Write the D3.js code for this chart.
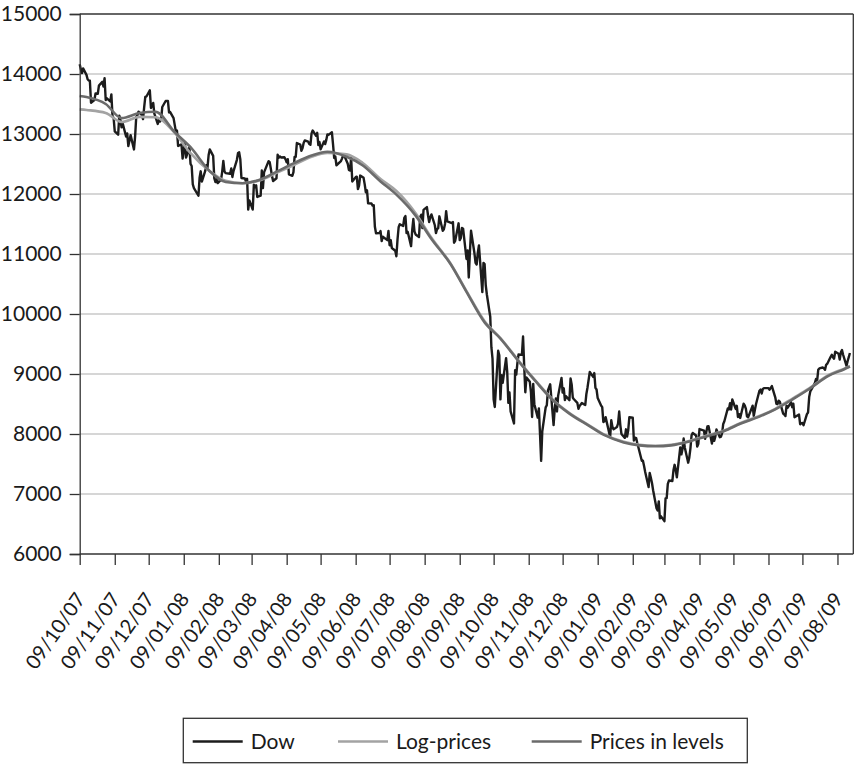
<!DOCTYPE html>
<html><head><meta charset="utf-8">
<script src="https://cdn.jsdelivr.net/npm/d3@7"></script>
<style>
body{margin:0;background:#fff}
svg{display:block}
text{font-family:Lato,"Open Sans",sans-serif;fill:#1a1a1a}
</style>
</head><body>
<svg id="chart" width="856" height="764"></svg>
<script>
// ---------- DATA ----------
const seriesNames = ["Dow", "Log-prices", "Prices in levels"];
const yTicks = [6000,7000,8000,9000,10000,11000,12000,13000,14000,15000];
const xTickDates = ["2007-10-09","2007-11-09","2007-12-09","2008-01-09","2008-02-09","2008-03-09","2008-04-09","2008-05-09","2008-06-09","2008-07-09","2008-08-09","2008-09-09","2008-10-09","2008-11-09","2008-12-09","2009-01-09","2009-02-09","2009-03-09","2009-04-09","2009-05-09","2009-06-09","2009-07-09","2009-08-09"];

const dow2007 = [["10-09",14164],["10-10",14078],["10-11",14015],["10-12",14093],["10-15",13985],["10-16",13913],["10-17",13892],["10-18",13888],["10-19",13522],["10-22",13566],["10-23",13676],["10-24",13675],["10-25",13671],["10-26",13807],["10-29",13870],["10-30",13792],["10-31",13930],["11-01",13567],["11-02",13595],["11-05",13543],["11-06",13660],["11-07",13300],["11-08",13266],["11-09",13043],["11-12",12988],["11-13",13307],["11-14",13231],["11-15",13110],["11-16",13177],["11-19",12958],["11-20",13010],["11-21",12799],["11-23",12981],["11-26",12743],["11-27",12959],["11-28",13289],["11-29",13311],["11-30",13372],["12-03",13315],["12-04",13249],["12-05",13445],["12-06",13620],["12-07",13625],["12-10",13727],["12-11",13433],["12-12",13474],["12-13",13518],["12-14",13339],["12-17",13167],["12-18",13232],["12-19",13207],["12-20",13245],["12-21",13450],["12-24",13550],["12-26",13551],["12-27",13359],["12-28",13366],["12-31",13265]];

const dow2008 = [["01-02",13044],["01-03",13057],["01-04",12800],["01-07",12827],["01-08",12589],["01-09",12735],["01-10",12853],["01-11",12606],["01-14",12778],["01-15",12501],["01-16",12467],["01-17",12159],["01-18",12099],["01-22",11971],["01-23",12270],["01-24",12378],["01-25",12207],["01-28",12384],["01-29",12480],["01-30",12443],["01-31",12650],["02-01",12743],["02-04",12635],["02-05",12265],["02-06",12200],["02-07",12248],["02-08",12182],["02-11",12240],["02-12",12373],["02-13",12552],["02-14",12376],["02-15",12348],["02-19",12337],["02-20",12427],["02-21",12284],["02-22",12381],["02-25",12570],["02-26",12684],["02-27",12694],["02-28",12582],["02-29",12266],["03-03",12258],["03-04",12213],["03-05",12254],["03-06",11740],["03-07",11894],["03-10",11741],["03-11",12156],["03-12",12111],["03-13",12146],["03-14",11951],["03-17",11972],["03-18",12392],["03-19",12099],["03-20",12361],["03-24",12548],["03-25",12532],["03-26",12422],["03-27",12302],["03-28",12216],["03-31",12263],["04-01",12654],["04-02",12605],["04-03",12626],["04-04",12609],["04-07",12612],["04-08",12577],["04-09",12527],["04-10",12581],["04-11",12326],["04-14",12302],["04-15",12363],["04-16",12619],["04-17",12620],["04-18",12849],["04-21",12825],["04-22",12721],["04-23",12763],["04-24",12849],["04-25",12892],["04-28",12871],["04-29",12832],["04-30",12820],["05-01",13010],["05-02",13058],["05-05",12970],["05-06",13020],["05-07",12814],["05-08",12866],["05-09",12745],["05-12",12876],["05-13",12832],["05-14",12898],["05-15",12992],["05-16",12986],["05-19",13028],["05-20",12828],["05-21",12601],["05-22",12625],["05-23",12479],["05-27",12548],["05-28",12594],["05-29",12647],["05-30",12638],["06-02",12503],["06-03",12402],["06-04",12390],["06-05",12604],["06-06",12209],["06-09",12280],["06-10",12289],["06-11",12083],["06-12",12141],["06-13",12307],["06-16",12269],["06-17",12160],["06-18",12029],["06-19",12063],["06-20",11843],["06-23",11842],["06-24",11807],["06-25",11811],["06-26",11453],["06-27",11346],["06-30",11350],["07-01",11382],["07-02",11215],["07-03",11288],["07-07",11231],["07-08",11384],["07-09",11147],["07-10",11229],["07-11",11100],["07-14",11055],["07-15",10962],["07-16",11239],["07-17",11446],["07-18",11496],["07-21",11467],["07-22",11602],["07-23",11632],["07-24",11349],["07-25",11370],["07-28",11131],["07-29",11397],["07-30",11583],["07-31",11378],["08-01",11326],["08-04",11284],["08-05",11615],["08-06",11656],["08-07",11432],["08-08",11734],["08-11",11782],["08-12",11642],["08-13",11532],["08-14",11616],["08-15",11659],["08-18",11479],["08-19",11348],["08-20",11417],["08-21",11430],["08-22",11628],["08-25",11386],["08-26",11413],["08-27",11502],["08-28",11715],["08-29",11543],["09-02",11516],["09-03",11532],["09-04",11188],["09-05",11220],["09-08",11511],["09-09",11231],["09-10",11268],["09-11",11434],["09-12",11421],["09-15",10917],["09-16",11059],["09-17",10609],["09-18",11020],["09-19",11388],["09-22",11016],["09-23",10854],["09-24",10825],["09-25",11022],["09-26",11143],["09-29",10365],["09-30",10851],["10-01",10831],["10-02",10483],["10-03",10325],["10-06",9955],["10-07",9447],["10-08",9258],["10-09",8579],["10-10",8451],["10-13",9387],["10-14",9311],["10-15",8577],["10-16",8979],["10-17",8852],["10-20",9265],["10-21",9034],["10-22",8519],["10-23",8691],["10-24",8378],["10-27",8176],["10-28",9065],["10-29",8991],["10-30",9180],["10-31",9325],["11-03",9319],["11-04",9625],["11-05",9139],["11-06",8695],["11-07",8943],["11-10",8870],["11-11",8693],["11-12",8283],["11-13",8835],["11-14",8497],["11-17",8273],["11-18",8425],["11-19",7997],["11-20",7552],["11-21",8046],["11-24",8443],["11-25",8479],["11-26",8726],["11-28",8829],["12-01",8149],["12-02",8419],["12-03",8591],["12-04",8376],["12-05",8635],["12-08",8934],["12-09",8691],["12-10",8761],["12-11",8565],["12-12",8629],["12-15",8564],["12-16",8924],["12-17",8824],["12-18",8604],["12-19",8579],["12-22",8519],["12-23",8419],["12-24",8468],["12-26",8515],["12-29",8483],["12-30",8668],["12-31",8776]];

const dow2009 = [["01-02",9034],["01-05",8952],["01-06",9015],["01-07",8769],["01-08",8742],["01-09",8599],["01-12",8474],["01-13",8448],["01-14",8200],["01-15",8212],["01-16",8281],["01-20",7949],["01-21",8228],["01-22",8123],["01-23",8077],["01-26",8116],["01-27",8175],["01-28",8375],["01-29",8149],["01-30",8001],["02-02",7936],["02-03",8078],["02-04",7956],["02-05",8063],["02-06",8280],["02-09",8270],["02-10",7889],["02-11",7939],["02-12",7932],["02-13",7850],["02-17",7553],["02-18",7555],["02-19",7466],["02-20",7366],["02-23",7115],["02-24",7351],["02-25",7270],["02-26",7183],["02-27",7063],["03-02",6763],["03-03",6726],["03-04",6876],["03-05",6594],["03-06",6627],["03-09",6547],["03-10",6926],["03-11",6930],["03-12",7170],["03-13",7224],["03-16",7216],["03-17",7395],["03-18",7486],["03-19",7400],["03-20",7278],["03-23",7776],["03-24",7660],["03-25",7750],["03-26",7924],["03-27",7776],["03-30",7522],["03-31",7609],["04-01",7761],["04-02",7978],["04-03",8018],["04-06",7975],["04-07",7789],["04-08",7837],["04-09",8083],["04-13",8058],["04-14",7920],["04-15",8029],["04-16",8125],["04-17",8131],["04-20",7842],["04-21",7969],["04-22",7886],["04-23",7957],["04-24",8076],["04-27",7946],["04-28",7956],["04-29",8016],["04-30",8168],["05-01",8212],["05-04",8426],["05-05",8410],["05-06",8512],["05-07",8409],["05-08",8575],["05-11",8418],["05-12",8469],["05-13",8284],["05-14",8331],["05-15",8268],["05-18",8504],["05-19",8475],["05-20",8422],["05-21",8293],["05-22",8277],["05-26",8473],["05-27",8300],["05-28",8403],["05-29",8500],["06-01",8721],["06-02",8740],["06-03",8675],["06-04",8750],["06-05",8764],["06-08",8764],["06-09",8763],["06-10",8739],["06-11",8770],["06-12",8799],["06-15",8612],["06-16",8504],["06-17",8497],["06-18",8555],["06-19",8539],["06-22",8339],["06-23",8323],["06-24",8299],["06-25",8472],["06-26",8438],["06-29",8529],["06-30",8447],["07-01",8504],["07-02",8280],["07-06",8324],["07-07",8163],["07-08",8178],["07-09",8183],["07-10",8146],["07-13",8332],["07-14",8359],["07-15",8616],["07-16",8711],["07-17",8743],["07-20",8848],["07-21",8916],["07-22",8881],["07-23",9069],["07-24",9093],["07-27",9108],["07-28",9096],["07-29",9070],["07-30",9154],["07-31",9172],["08-03",9286],["08-04",9320],["08-05",9280],["08-06",9256],["08-07",9370],["08-10",9337],["08-11",9241],["08-12",9362],["08-13",9398],["08-14",9321],["08-17",9135],["08-18",9217],["08-19",9280],["08-20",9350]];

const trendDates = ["2007-10-09","2007-10-15","2007-11-01","2007-11-15","2007-12-01","2007-12-15","2008-01-01","2008-01-15","2008-02-01","2008-02-15","2008-03-01","2008-03-15","2008-04-01","2008-04-15","2008-05-01","2008-05-15","2008-06-01","2008-06-15","2008-07-01","2008-07-15","2008-08-01","2008-08-15","2008-09-01","2008-09-15","2008-10-01","2008-10-15","2008-11-01","2008-11-15","2008-12-01","2008-12-15","2009-01-01","2009-01-15","2009-02-01","2009-02-15","2009-03-01","2009-03-15","2009-04-01","2009-04-15","2009-05-01","2009-05-15","2009-06-01","2009-06-15","2009-07-01","2009-07-15","2009-08-01","2009-08-15","2009-08-20"];
const logPrices = [13411,13400,13350,13200,13285,13280,13020,12680,12380,12220,12180,12220,12360,12480,12620,12685,12660,12520,12250,12050,11680,11270,10840,10380,9880,9600,9200,8890,8560,8350,8150,7990,7870,7820,7805,7820,7890,7970,8060,8180,8300,8420,8600,8760,8980,9090,9130];
const pricesInLevels = [13633,13615,13500,13265,13350,13370,13030,12780,12380,12200,12180,12230,12380,12510,12640,12705,12620,12480,12210,11990,11640,11250,10830,10370,9860,9590,9190,8880,8550,8340,8140,7980,7860,7810,7795,7810,7880,7960,8050,8170,8290,8410,8585,8750,8970,9080,9125];

// ---------- CHART ----------
const svg = d3.select("#chart");
const parse = d3.utcParse("%Y-%m-%d");
const L = 79.7, R = 853.3, T = 14, B = 554;

const x = d3.scaleUtc().domain([parse("2007-10-09"), parse("2009-08-23")]).range([L, R]);
const y = d3.scaleLinear().domain([6000, 15000]).range([B, T]);

const dow = [].concat(
  dow2007.map(d => ({date: parse("2007-" + d[0]), v: d[1]})),
  dow2008.map(d => ({date: parse("2008-" + d[0]), v: d[1]})),
  dow2009.map(d => ({date: parse("2009-" + d[0]), v: d[1]}))
);
const logS = trendDates.map((d, i) => ({date: parse(d), v: logPrices[i]}));
const lvlS = trendDates.map((d, i) => ({date: parse(d), v: pricesInLevels[i]}));

// gridlines
svg.append("g").selectAll("line").data(yTicks.filter(t => t > 6000 && t < 15000)).join("line")
  .attr("x1", L).attr("x2", R).attr("y1", d => y(d)).attr("y2", d => y(d))
  .attr("stroke", "#c8c8c8").attr("stroke-width", 1.5);

// series
const line = d3.line().x(d => x(d.date)).y(d => y(d.v));
const smooth = d3.line().x(d => x(d.date)).y(d => y(d.v)).curve(d3.curveMonotoneX);
svg.append("path").datum(dow).attr("d", line).attr("fill", "none")
  .attr("stroke", "#1c1c1c").attr("stroke-width", 2.4).attr("stroke-linejoin", "round");
svg.append("path").datum(logS).attr("d", smooth).attr("fill", "none")
  .attr("stroke", "#a3a3a3").attr("stroke-width", 2.6);
svg.append("path").datum(lvlS).attr("d", smooth).attr("fill", "none")
  .attr("stroke", "#6b6b6b").attr("stroke-width", 2.6);

// frame top / right
svg.append("line").attr("x1", L).attr("x2", R).attr("y1", T).attr("y2", T).attr("stroke", "#333").attr("stroke-width", 1.3);
svg.append("line").attr("x1", R).attr("x2", R).attr("y1", T).attr("y2", B).attr("stroke", "#333").attr("stroke-width", 1.3);

// y axis
const yAxis = d3.axisLeft(y).tickValues(yTicks).tickSize(10).tickPadding(8).tickFormat(d3.format("d"));
const gy = svg.append("g").attr("transform", `translate(${L},0)`).call(yAxis);
gy.select(".domain").attr("stroke", "#333").attr("stroke-width", 1.3);
gy.selectAll(".tick line").attr("stroke", "#333").attr("stroke-width", 1.3);
gy.selectAll(".tick text").attr("font-size", 21).attr("font-family", "Lato").attr("fill", "#1a1a1a");

// x axis
const xAxis = d3.axisBottom(x).tickValues(xTickDates.map(parse)).tickSize(11).tickFormat(d3.utcFormat("%d/%m/%y"));
const gx = svg.append("g").attr("transform", `translate(0,${B})`).call(xAxis);
gx.select(".domain").attr("stroke", "#333").attr("stroke-width", 1.3).attr("d", `M${L},0H${R}`);
gx.selectAll(".tick line").attr("stroke", "#333").attr("stroke-width", 1.3);
gx.selectAll(".tick text")
  .attr("font-size", 20).attr("font-family", "Lato").attr("fill", "#1a1a1a")
  .attr("text-anchor", "end").attr("dy", null).attr("y", null)
  .attr("transform", "translate(6,45) rotate(-55)");

// legend
const lg = svg.append("g");
lg.append("rect").attr("x", 183.3).attr("y", 718.3).attr("width", 564).attr("height", 44.4)
  .attr("fill", "#fff").attr("stroke", "#333").attr("stroke-width", 1.3);
const legendItems = [
  {name: seriesNames[0], color: "#1c1c1c", x0: 192.7},
  {name: seriesNames[1], color: "#a3a3a3", x0: 338},
  {name: seriesNames[2], color: "#6b6b6b", x0: 531.7}
];
const li = lg.selectAll("g.item").data(legendItems).join("g").attr("class", "item");
li.append("line").attr("x1", d => d.x0).attr("x2", d => d.x0 + 50).attr("y1", 741.5).attr("y2", 741.5)
  .attr("stroke", d => d.color).attr("stroke-width", 2.6);
li.append("text").attr("x", d => d.x0 + 58).attr("y", 748.5).attr("font-size", 21).text(d => d.name);
</script>
</body></html>
